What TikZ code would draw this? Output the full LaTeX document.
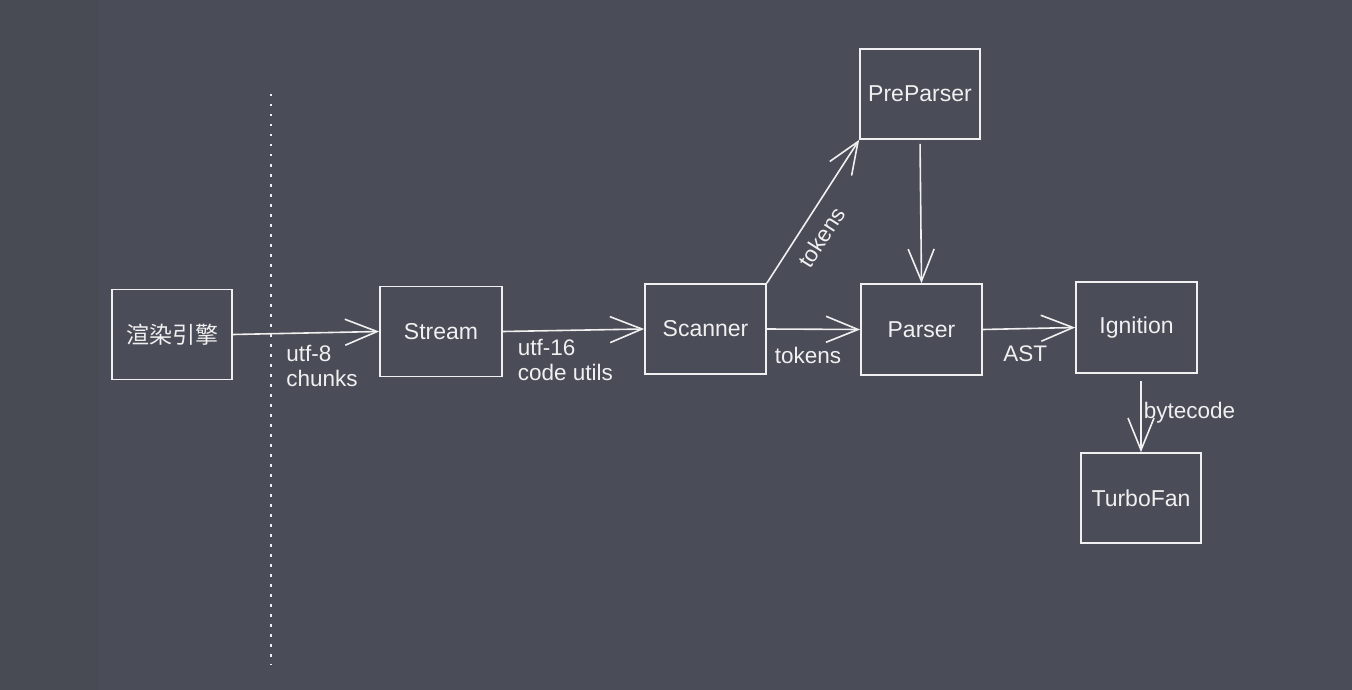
\documentclass[tikz,border=0pt]{standalone}
\usepackage{fontspec}
\setmainfont{Liberation Sans}
\newfontfamily\cjkfont{Noto Sans CJK SC}
\usetikzlibrary{arrows.meta,calc}
\definecolor{bg}{HTML}{4A4C57}
\definecolor{bgleft}{HTML}{484A54}
\definecolor{ink}{HTML}{F0F0F0}
\begin{document}
\begin{tikzpicture}[x=1pt,y=-1pt,
  box/.style={draw=ink, line width=1.7pt, minimum width=120pt, minimum height=90pt, inner sep=0pt, text=ink, font=\fontsize{23}{25}\selectfont},
  arr/.style={draw=ink, line width=1.6pt, -{Straight Barb[length=32pt,width=26pt,line width=1.6pt]}},
  lbl/.style={text=ink, font=\fontsize{22.5}{25}\selectfont, inner sep=0pt, align=left},
  sep/.style={draw=ink, line width=2.2pt, dash pattern=on 2.5pt off 7.5pt}]
\fill[bg] (0,0) rectangle (1352,690);
\fill[bgleft] (0,0) rectangle (99,690);
\useasboundingbox (0,0) rectangle (1352,690);

\coordinate (septop) at (271,94);
\coordinate (sepbot) at (271,665);
\draw[sep] (septop) -- (sepbot);

\node[box] (r)  at (172,334.5) {\cjkfont 渲染引擎};
\node[box, minimum width=122pt] (st) at (441,331.5) {Stream};
\node[box, minimum width=121pt] (sc) at (705.5,329) {Scanner};
\node[box] (pp) at (920,94) {PreParser};
\node[box, minimum width=121pt, minimum height=91pt] (pa) at (921.5,329.5) {Parser};
\node[box, minimum width=121pt, minimum height=91pt] (ig) at (1136.5,327.5) {Ignition};
\node[box] (tf) at (1141,498) {TurboFan};

\draw[arr] (r.east) -- node[lbl, pos=0.36, anchor=north west, yshift=-11pt] {utf-8\\chunks} (st.west);
\draw[arr] (st.east) -- node[lbl, pos=0.1, anchor=north west, yshift=-7pt] {utf-16\\code utils} (sc.west);
\draw[arr] (sc.east) -- node[lbl, pos=0.44, anchor=north, yshift=-17pt] {tokens} (pa.west);
\draw[arr] (sc.north east) -- node[lbl, pos=0.4, sloped, anchor=north, yshift=-12pt] {tokens} (pp.south west);
\draw[arr, shorten <=4pt] (pp.south) -- (pa.north);
\draw[arr] (pa.east) -- node[lbl, pos=0.46, anchor=north, yshift=-16pt] {AST} (ig.west);
\draw[arr, shorten <=7pt] (tf.north |- ig.south) -- node[lbl, pos=0.5, anchor=west, xshift=2pt] {bytecode} (tf.north);
\end{tikzpicture}
\end{document}
